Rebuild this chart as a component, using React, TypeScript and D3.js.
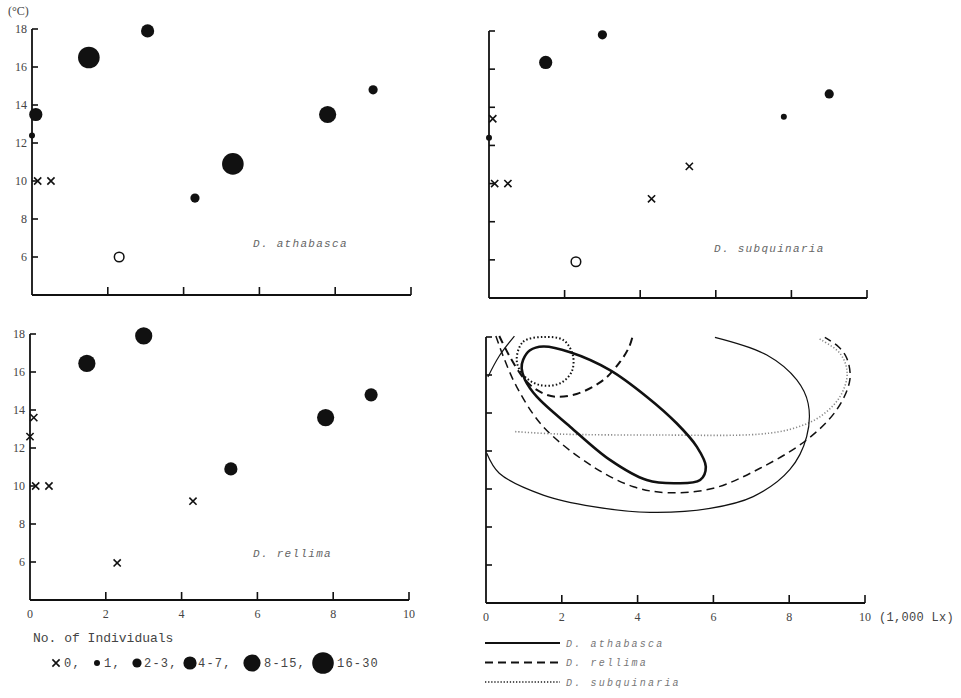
import React from 'react';
import * as d3 from 'd3';

// axis ticks
const xTicks = [0, 2, 4, 6, 8, 10];
const yTicks = [6, 8, 10, 12, 14, 16, 18];

// legend classes (number of individuals)
const sizeClasses = ['0', '1', '2-3', '4-7', '8-15', '16-30'];
const sizeLabels = ['0,', '1,', '2-3,', '4-7,', '8-15,', '16-30'];
const sizeRadius: Record<string, number> = { '1': 3, '2-3': 4.6, '4-7': 6.6, '8-15': 8.6, '16-30': 10.8 };

// points: [light (1,000 Lx), temperature (°C), class]
const athabasca: [number, number, string][] = [
  [1.5, 16.5, '16-30'], [3.05, 17.9, '4-7'], [0.1, 13.5, '4-7'], [0, 12.4, '1'],
  [0.15, 10, '0'], [0.5, 10, '0'], [2.3, 6, 'open'], [4.3, 9.1, '2-3'],
  [5.3, 10.9, '16-30'], [7.8, 13.5, '8-15'], [9.0, 14.8, '2-3'],
];
const subquinaria: [number, number, string][] = [
  [1.5, 16.35, '4-7'], [3.0, 17.8, '2-3'], [0.1, 13.4, '0'], [0, 12.4, '1'],
  [0.15, 10, '0'], [0.5, 10, '0'], [2.3, 5.9, 'open'], [4.3, 9.2, '0'],
  [5.3, 10.9, '0'], [7.8, 13.5, '1'], [9.0, 14.7, '2-3'],
];
const rellima: [number, number, string][] = [
  [1.5, 16.45, '8-15'], [3.0, 17.9, '8-15'], [0.1, 13.6, '0'], [0, 12.6, '0'],
  [0.15, 10, '0'], [0.5, 10, '0'], [2.3, 5.95, '0'], [4.3, 9.2, '0'],
  [5.3, 10.9, '4-7'], [7.8, 13.6, '8-15'], [9.0, 14.8, '4-7'],
];

// contours of the bottom-right panel
const athabascaInner: [number, number][] = [
  [0.98, 16.8], [1.16, 17.3], [1.51, 17.5], [2.22, 17.2], [3.27, 16.26], [4.24, 14.86],
  [5.03, 13.46], [5.56, 12.23], [5.8, 11.17], [5.65, 10.47], [5.03, 10.3], [4.24, 10.47],
  [3.27, 11.53], [2.22, 13.28], [1.34, 14.86], [1.03, 15.74], [0.94, 16.35],
];
const athabascaOuter: [number, number][] = [
  [0.02, 11.88], [0.35, 10.83], [1.51, 9.68], [2.83, 9.07], [4.33, 8.77], [5.91, 8.98],
  [7.05, 9.6], [8.02, 11.03], [8.46, 12.75], [8.5, 14.5], [8.2, 15.74], [7.41, 17.05], [6.04, 17.98],
];
const athabascaCorner: [number, number][] = [[0.05, 15.9], [0.35, 17.0], [0.75, 18.05]];
const rellimaInner: [number, number][] = [
  [0.35, 18.05], [0.63, 16.96], [1.03, 15.74], [1.42, 15.12], [1.82, 14.86], [2.39, 15.0],
  [3.1, 15.74], [3.54, 16.7], [3.78, 17.49], [3.87, 18.05],
];
const rellimaOuter: [number, number][] = [
  [0.26, 18.05], [0.46, 16.96], [0.81, 15.38], [1.51, 13.28], [2.83, 11.17], [3.89, 10.12],
  [4.77, 9.81], [6.0, 10.04], [7.23, 11.09], [8.46, 12.58], [9.25, 14.16], [9.6, 15.74],
  [9.52, 16.88], [9.3, 17.49], [8.94, 17.98],
];
const subquinariaInner: [number, number][] = [
  [0.81, 16.79], [0.98, 17.75], [1.51, 18.0], [2.04, 17.84], [2.29, 17.05],
  [2.26, 16.17], [1.95, 15.56], [1.42, 15.47], [0.98, 16.0],
];
const subquinariaOuter: [number, number][] = [
  [0.77, 13.02], [1.95, 12.89], [4.59, 12.84], [7.23, 12.89], [8.11, 13.19], [8.81, 13.8],
  [9.34, 14.86], [9.53, 16.09], [9.34, 17.14], [8.77, 17.93],
];

const mono = '"Liberation Mono", "DejaVu Sans Mono", monospace';
const serif = '"Liberation Serif", "DejaVu Serif", serif';
const ink = '#111';
const textInk = '#444';

type Box = { x0: number; x10: number; y4: number; y18: number };

function scales(b: Box) {
  const x = d3.scaleLinear().domain([0, 10]).range([b.x0, b.x10]);
  const y = d3.scaleLinear().domain([4, 18]).range([b.y4, b.y18]);
  return { x, y };
}

function Cross({ cx, cy, s = 3.6 }: { cx: number; cy: number; s?: number }) {
  return (
    <path d={`M${cx - s},${cy - s}L${cx + s},${cy + s}M${cx - s},${cy + s}L${cx + s},${cy - s}`}
      stroke={ink} strokeWidth={1.6} fill="none" />
  );
}

function Marker({ cx, cy, cls }: { cx: number; cy: number; cls: string }) {
  if (cls === '0') return <Cross cx={cx} cy={cy} />;
  if (cls === 'open') return <circle cx={cx} cy={cy} r={4.8} fill="#fff" stroke={ink} strokeWidth={1.5} />;
  return <circle cx={cx} cy={cy} r={sizeRadius[cls]} fill={ink} />;
}

function Axes({ box, xLabels, yLabels, unit }: { box: Box; xLabels?: boolean; yLabels?: boolean; unit?: boolean }) {
  const { x, y } = scales(box);
  return (
    <g>
      <line x1={x(0)} x2={x(10)} y1={y(4)} y2={y(4)} stroke={ink} strokeWidth={1.8} />
      <line x1={x(0)} x2={x(0)} y1={y(4)} y2={y(18)} stroke={ink} strokeWidth={1.8} />
      {xTicks.filter(t => t > 0).map(t => (
        <line key={t} x1={x(t)} x2={x(t)} y1={y(4)} y2={y(4) - 8} stroke={ink} strokeWidth={1.6} />
      ))}
      {yTicks.map(t => (
        <line key={t} x1={x(0)} x2={x(0) + 6} y1={y(t)} y2={y(t)} stroke={ink} strokeWidth={1.6} />
      ))}
      {xLabels && xTicks.map(t => (
        <text key={t} x={x(t)} y={y(4) + 18} textAnchor="middle" fontFamily={serif} fontSize={12} fill={textInk}>{t}</text>
      ))}
      {unit && (
        <text x={x(10) + 14} y={y(4) + 18} fontFamily={mono} fontSize={12} letterSpacing={0.3} fill={textInk}>(1,000 Lx)</text>
      )}
      {yLabels && yTicks.map(t => (
        <text key={t} x={x(0) - 5} y={y(t) + 4} textAnchor="end" fontFamily={serif} fontSize={12} fill={textInk}>{t}</text>
      ))}
    </g>
  );
}

function ScatterPanel({ box, data, name, nameX, nameY, xLabels, yLabels }:
  { box: Box; data: [number, number, string][]; name: string; nameX: number; nameY: number; xLabels?: boolean; yLabels?: boolean }) {
  const { x, y } = scales(box);
  return (
    <g>
      <Axes box={box} xLabels={xLabels} yLabels={yLabels} />
      {data.map(([l, t, c], i) => <Marker key={i} cx={x(l)} cy={y(t)} cls={c} />)}
      <text x={nameX} y={nameY} fontFamily={mono} fontStyle="italic" fontSize={11} letterSpacing={1.3} fill="#666">{name}</text>
    </g>
  );
}

function ContourPanel({ box }: { box: Box }) {
  const { x, y } = scales(box);
  const closed = d3.line<[number, number]>().x(d => x(d[0])).y(d => y(d[1])).curve(d3.curveCatmullRomClosed.alpha(0.5));
  const open = d3.line<[number, number]>().x(d => x(d[0])).y(d => y(d[1])).curve(d3.curveCatmullRom.alpha(0.5));
  return (
    <g>
      <Axes box={box} xLabels unit />
      <path d={open(subquinariaOuter) || ''} fill="none" stroke="#888" strokeWidth={1.6} strokeDasharray="1.2 2" />
      <path d={open(athabascaOuter) || ''} fill="none" stroke={ink} strokeWidth={1.2} />
      <path d={open(athabascaCorner) || ''} fill="none" stroke={ink} strokeWidth={1.2} />
      <path d={open(rellimaOuter) || ''} fill="none" stroke={ink} strokeWidth={1.5} strokeDasharray="8 5" />
      <path d={open(rellimaInner) || ''} fill="none" stroke={ink} strokeWidth={2} strokeDasharray="8 5" />
      <path d={closed(subquinariaInner) || ''} fill="none" stroke={ink} strokeWidth={2} strokeDasharray="1.5 2.2" />
      <path d={closed(athabascaInner) || ''} fill="none" stroke={ink} strokeWidth={2.6} />
    </g>
  );
}

const legendLines = [
  { name: 'D. athabasca', dash: undefined, width: 2, color: ink },
  { name: 'D. rellima', dash: '8 5', width: 2, color: ink },
  { name: 'D. subquinaria', dash: '1.3 1.8', width: 1.8, color: '#555' },
];

export default function App() {
  const tl: Box = { x0: 32, x10: 411, y4: 295, y18: 29 };
  const tr: Box = { x0: 489, x10: 867, y4: 298, y18: 31 };
  const bl: Box = { x0: 30, x10: 409, y4: 600, y18: 334 };
  const br: Box = { x0: 486, x10: 865, y4: 603, y18: 337 };
  const legendX = [56, 97, 137, 190, 252, 323];
  const legendTextX = [64, 104, 144, 198, 264, 337];
  return (
    <svg width={961} height={698} style={{ position: 'absolute', left: 0, top: 0, background: '#fff' }}>
      <text x={8} y={15} fontFamily={serif} fontSize={12} fill={textInk}>(°C)</text>
      <ScatterPanel box={tl} data={athabasca} name="D. athabasca" nameX={253} nameY={247} yLabels />
      <ScatterPanel box={tr} data={subquinaria} name="D. subquinaria" nameX={714} nameY={252} />
      <ScatterPanel box={bl} data={rellima} name="D. rellima" nameX={253} nameY={557} xLabels yLabels />
      <ContourPanel box={br} />

      <text x={33} y={642} fontFamily={mono} fontSize={13} fill={textInk}>No. of Individuals</text>
      {sizeClasses.map((c, i) => (
        <g key={c}>
          <Marker cx={legendX[i]} cy={663} cls={c} />
          <text x={legendTextX[i]} y={667} fontFamily={mono} fontSize={12} letterSpacing={1.2} fill={textInk}>{sizeLabels[i]}</text>
        </g>
      ))}

      {legendLines.map((l, i) => (
        <g key={l.name}>
          <line x1={485} x2={560} y1={643 + i * 19.5} y2={643 + i * 19.5} stroke={l.color} strokeWidth={l.width} strokeDasharray={l.dash} />
          <text x={566} y={646.5 + i * 19.5} fontFamily={mono} fontStyle="italic" fontSize={10} letterSpacing={2.2} fill="#777">{l.name}</text>
        </g>
      ))}
    </svg>
  );
}
